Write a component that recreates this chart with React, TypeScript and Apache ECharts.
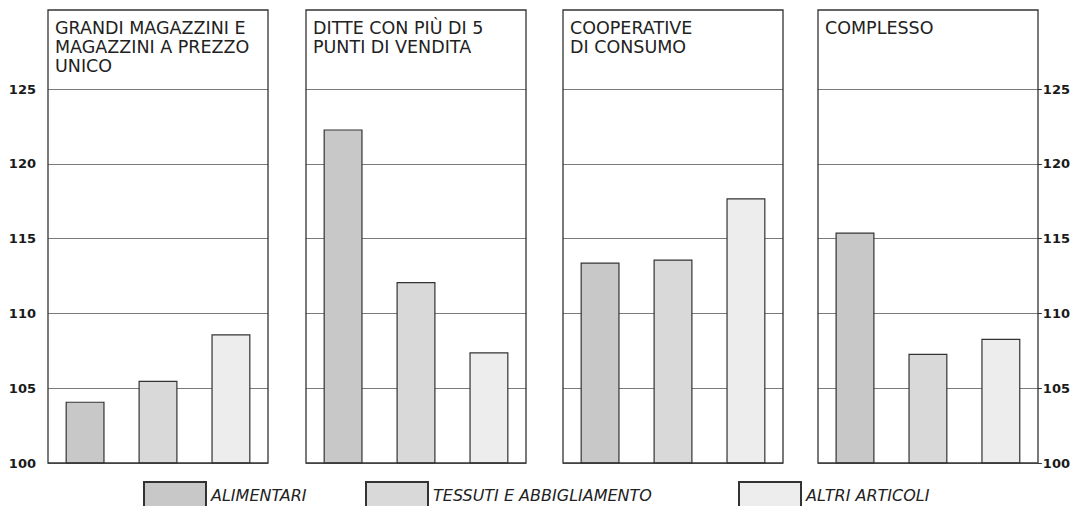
import React, { useEffect, useRef } from "react";
import * as echarts from "echarts";

const panelTitles = [
  "GRANDI MAGAZZINI E\nMAGAZZINI A PREZZO\nUNICO",
  "DITTE CON PIÙ DI 5\nPUNTI DI VENDITA",
  "COOPERATIVE\nDI CONSUMO",
  "COMPLESSO",
];
const seriesNames = ["ALIMENTARI", "TESSUTI E ABBIGLIAMENTO", "ALTRI ARTICOLI"];
const alimentari = [104.1, 122.3, 113.4, 115.4];
const tessuti = [105.5, 112.1, 113.6, 107.3];
const altri = [108.6, 107.4, 117.7, 108.3];
const yMin = 100;
const yMax = 125;
const yStep = 5;

const panelLefts = [48, 306, 563, 818];
const panelWidth = 220;
const frameTop = 10;
const gridTop = 89;
const gridHeight = 374;
const colors = ["#c8c8c8", "#d9d9d9", "#ededed"];
const legendLefts = [143, 365, 738];
const font = "DejaVu Sans";

export default function App() {
  const ref = useRef<HTMLDivElement>(null);
  useEffect(() => {
    if (!ref.current) return;
    const chart = echarts.init(ref.current, null, { renderer: "svg" });
    const values = [alimentari, tessuti, altri];
    const grids = panelLefts.map((l) => ({ left: l, top: gridTop, width: panelWidth, height: gridHeight }));
    const xAxes = panelLefts.map((_, i) => ({
      type: "category",
      gridIndex: i,
      data: [panelTitles[i]],
      show: false,
    }));
    const yAxes = panelLefts.map((_, i) => ({
      type: "value",
      gridIndex: i,
      min: yMin,
      max: yMax,
      interval: yStep,
      position: i === 3 ? "right" : "left",
      axisLine: { show: false },
      axisTick: {
        show: i === 3,
        length: 4,
        lineStyle: { color: "#333", width: 1 },
      },
      axisLabel: {
        show: i === 0 || i === 3,
        margin: i === 0 ? 12 : 5,
        color: "#1a1a1a",
        fontFamily: font,
        fontSize: 13,
        fontWeight: "bold",
      },
      splitLine: { show: true, lineStyle: { color: "#7a7a7a", width: 1 } },
    }));
    const series: any[] = [];
    panelLefts.forEach((_, p) => {
      seriesNames.forEach((name, s) => {
        series.push({
          type: "bar",
          name,
          xAxisIndex: p,
          yAxisIndex: p,
          data: [values[s][p]],
          barWidth: 39,
          barGap: "87%",
          itemStyle: { color: colors[s], borderColor: "#333", borderWidth: 1.2 },
          z: 3,
        });
      });
    });
    const titles = panelLefts.map((l, i) => ({
      text: panelTitles[i],
      left: l + 7,
      top: 18,
      padding: 0,
      textStyle: {
        fontFamily: font,
        fontSize: 17.5,
        fontWeight: "normal",
        color: "#222",
        lineHeight: 19,
      },
    }));
    const legends = seriesNames.map((name, i) => ({
      data: [name],
      left: legendLefts[i],
      top: 481,
      padding: 0,
      icon: "rect",
      itemWidth: 62,
      itemHeight: 27,
      itemGap: 6,
      selectedMode: false,
      textStyle: {
        fontFamily: font,
        fontSize: 16,
        fontStyle: "italic",
        color: "#222",
      },
    }));
    const graphic = panelLefts.map((l) => ({
      type: "rect",
      shape: { x: l, y: frameTop, width: panelWidth, height: gridTop + gridHeight - frameTop },
      style: { fill: "none", stroke: "#333", lineWidth: 1.3 },
      z: 10,
      silent: true,
    }));
    chart.setOption({
      animation: false,
      backgroundColor: "#fff",
      title: titles,
      legend: legends,
      grid: grids,
      xAxis: xAxes,
      yAxis: yAxes,
      series,
      graphic,
    });
    return () => chart.dispose();
  }, []);
  return (
    <div
      ref={ref}
      style={{ position: "fixed", left: 0, top: 0, width: 1073, height: 506 }}
    />
  );
}
